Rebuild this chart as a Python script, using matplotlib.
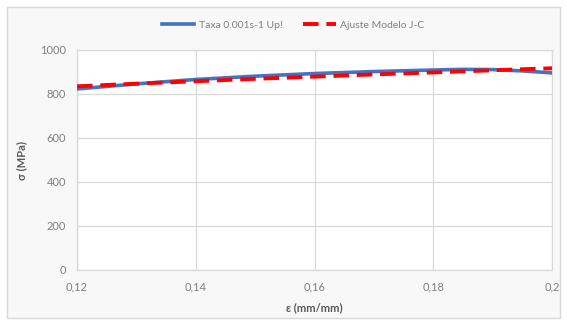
import matplotlib
matplotlib.use("Agg")
import matplotlib.pyplot as plt
from matplotlib.patches import Rectangle

strain_exp = [0.12, 0.13, 0.14, 0.15, 0.16, 0.17, 0.18, 0.185, 0.19, 0.195, 0.20]
stress_exp = [823, 846, 866, 881, 893, 902, 909, 912, 911, 905, 896]
strain_jc = [0.12, 0.13, 0.14, 0.15, 0.16, 0.17, 0.18, 0.19, 0.20]
stress_jc = [835, 847, 858, 869, 879, 889, 898, 908, 917]
xticks = [0.12, 0.14, 0.16, 0.18, 0.20]
xticklabels = ["0,12", "0,14", "0,16", "0,18", "0,2"]
yticks = [0, 200, 400, 600, 800, 1000]
series_names = ["Taxa 0.001s-1 Up!", "Ajuste Modelo J-C"]

plt.rcParams['font.family'] = ['Lato', 'DejaVu Sans']
W, H = 567, 325
fig = plt.figure(figsize=(W/100, H/100), dpi=100)
fig.patch.set_facecolor('white')
fig.patches.append(Rectangle((7/W, 1 - 318/H), (560-7)/W, (318-7)/H, transform=fig.transFigure,
                             facecolor='#f8f8f8', edgecolor='#d9d9d9', linewidth=1.0, zorder=-10))

ax = fig.add_axes([77/W, 1 - 270/H, (552-77)/W, (270-50)/H])
ax.set_facecolor('white')
gray = '#7f7f7f'
dark = '#595959'
ax.plot(strain_exp, stress_exp, color='#4472c4', linewidth=2.6, label=series_names[0], zorder=3)
ax.plot(strain_jc, stress_jc, color='#ff0000', linewidth=2.8, dashes=(4, 2), label=series_names[1], zorder=4)
ax.set_xlim(0.12, 0.20)
ax.set_ylim(0, 1000)
ax.set_xticks(xticks)
ax.set_xticklabels(xticklabels)
ax.set_yticks(yticks)
ax.grid(True, color='#d9d9d9', linewidth=0.9)
ax.set_axisbelow(True)
for s in ax.spines.values():
    s.set_color('#d9d9d9')
    s.set_linewidth(0.9)
ax.tick_params(length=0, colors=gray, labelsize=8, pad=8)
ax.set_xlabel("ε (mm/mm)", color=dark, fontsize=8, fontweight='bold', labelpad=7)
ax.set_ylabel("σ (MPa)", color=dark, fontsize=8, fontweight='bold', labelpad=9)
leg = ax.legend(loc='center', bbox_to_anchor=(293/W, 1 - 25/H), bbox_transform=fig.transFigure,
                ncol=2, frameon=False, fontsize=7.5, handlelength=3.1, columnspacing=2.0, handletextpad=0.4)
for t in leg.get_texts():
    t.set_color(gray)
fig.savefig("out.png", dpi=100)
